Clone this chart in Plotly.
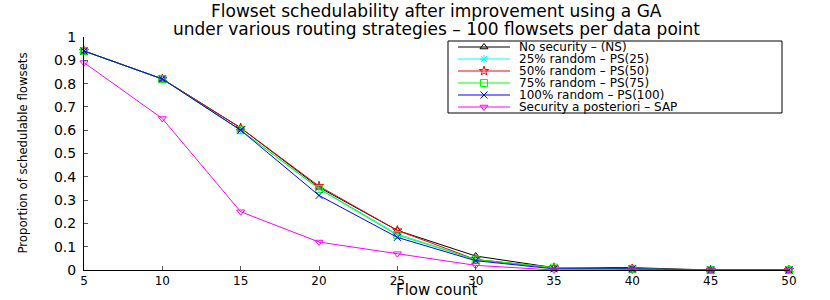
import plotly.graph_objects as go

# ---- data ----
flow_count = [5, 10, 15, 20, 25, 30, 35, 40, 45, 50]
ns    = [0.94, 0.82, 0.61, 0.355, 0.17, 0.06, 0.01, 0.01, 0.0, 0.0]
ps25  = [0.94, 0.82, 0.60, 0.35, 0.155, 0.045, 0.01, 0.005, 0.0, 0.0]
ps50  = [0.94, 0.82, 0.61, 0.36, 0.17, 0.045, 0.01, 0.005, 0.0, 0.0]
ps75  = [0.94, 0.82, 0.60, 0.348, 0.15, 0.045, 0.01, 0.005, 0.0, 0.0]
ps100 = [0.94, 0.82, 0.60, 0.32, 0.14, 0.04, 0.005, 0.005, 0.0, 0.0]
sap   = [0.89, 0.65, 0.25, 0.12, 0.07, 0.02, 0.0, 0.0, 0.0, 0.0]

series_names = ["No security \u2013 (NS)", "25% random \u2013 PS(25)", "50% random \u2013 PS(50)",
                "75% random \u2013 PS(75)", "100% random \u2013 PS(100)",
                "Security a posteriori \u2013 SAP"]
series_values = [ns, ps25, ps50, ps75, ps100, sap]
series_colors = ["#000000", "#00FFFF", "#FF0000", "#00FF00", "#0000FF", "#FF00FF"]
series_symbols = ["triangle-up-open", "asterisk-open", "star-open", "square-open",
                  "x-thin-open", "triangle-down-open"]

y_ticks = [0, 0.1, 0.2, 0.3, 0.4, 0.5, 0.6, 0.7, 0.8, 0.9, 1]
y_tick_labels = ["0", "0.1", "0.2", "0.3", "0.4", "0.5", "0.6", "0.7", "0.8", "0.9", "1"]
x_ticks = flow_count
x_tick_labels = [str(v) for v in flow_count]

title_lines = ["Flowset schedulability after improvement using a GA",
               "under various routing strategies \u2013 100 flowsets per data point"]
x_title = "Flow count"
y_title = "Proportion of schedulable flowsets"

# ---- layout geometry (pixels) ----
W, H = 830, 300
L, R, T, B = 84, 41, 37, 30
PX0, PX1 = L, W - R
PY0, PY1 = T, H - B


def px(x):
    return (x - PX0) / (PX1 - PX0)


def py(y):
    return (PY1 - y) / (PY1 - PY0)


FONT = "DejaVu Sans, Liberation Sans, Arial, sans-serif"
NARROW = "Liberation Sans Narrow, DejaVu Sans Condensed, Arial Narrow, sans-serif"

fig = go.Figure()

for name, vals, col, sym in zip(series_names, series_values, series_colors, series_symbols):
    fig.add_trace(go.Scatter(
        x=flow_count, y=vals, mode="lines+markers", name=name,
        line=dict(color=col, width=1),
        marker=dict(symbol=sym, size=7, color=col, line=dict(color=col, width=1)),
        cliponaxis=False, showlegend=False, xaxis="x", yaxis="y",
    ))

# ---- manual legend on a pixel overlay axis ----
leg_x0, leg_x1, leg_y0, leg_y1 = 448, 782, 41, 113
row_h = (leg_y1 - leg_y0) / len(series_names)
for i, (name, col, sym) in enumerate(zip(series_names, series_colors, series_symbols)):
    yc = leg_y0 + row_h * (i + 0.5)
    fig.add_trace(go.Scatter(
        x=[458, 510], y=[yc, yc], mode="lines", line=dict(color=col, width=1),
        showlegend=False, hoverinfo="skip", xaxis="x2", yaxis="y2", cliponaxis=False))
    fig.add_trace(go.Scatter(
        x=[484], y=[yc], mode="markers",
        marker=dict(symbol=sym, size=7, color=col, line=dict(color=col, width=1)),
        showlegend=False, hoverinfo="skip", xaxis="x2", yaxis="y2", cliponaxis=False))
    fig.add_annotation(x=px(517), y=py(yc), xref="paper", yref="paper", text=name, showarrow=False,
                       xanchor="left", yanchor="middle",
                       font=dict(family=FONT, size=12, color="#000000"))
fig.add_shape(type="rect", xref="paper", yref="paper",
              x0=px(leg_x0), x1=px(leg_x1), y0=py(leg_y0), y1=py(leg_y1),
              line=dict(color="#000000", width=1), fillcolor="rgba(255,255,255,0)", layer="below")

# ---- titles ----
title_cx = px((PX0 + PX1) / 2)
for txt, yy in zip(title_lines, [11, 29]):
    fig.add_annotation(x=title_cx, y=py(yy), xref="paper", yref="paper", text=txt, showarrow=False,
                       xanchor="center", yanchor="middle",
                       font=dict(family=FONT, size=17, color="#000000"))
fig.add_annotation(x=title_cx, y=py(301), xref="paper", yref="paper", text=x_title, showarrow=False,
                   xanchor="center", yanchor="bottom",
                   font=dict(family=FONT, size=15, color="#000000"))
fig.add_annotation(x=px(22), y=py((PY0 + PY1) / 2), xref="paper", yref="paper", text=y_title,
                   showarrow=False, textangle=-90, xanchor="center", yanchor="middle",
                   font=dict(family=NARROW, size=13, color="#000000"))

fig.update_layout(
    width=W, height=H,
    margin=dict(l=L, r=R, t=T, b=B, pad=0),
    plot_bgcolor="white", paper_bgcolor="white",
    showlegend=False,
    xaxis=dict(range=[5, 50], tickvals=x_ticks, ticktext=x_tick_labels,
               showgrid=False, zeroline=False, showline=True, linecolor="#000000", linewidth=1,
               ticks="inside", ticklen=4, tickcolor="#555555",
               tickfont=dict(family=FONT, size=12, color="#000000"),
               ticklabelstandoff=0, fixedrange=True),
    yaxis=dict(range=[0, 1], tickvals=y_ticks, ticktext=y_tick_labels,
               showgrid=False, zeroline=False, showline=True, linecolor="#000000", linewidth=1,
               ticks="inside", ticklen=4, tickcolor="#555555",
               tickfont=dict(family=FONT, size=14, color="#000000"),
               ticklabelstandoff=4, fixedrange=True),
    xaxis2=dict(range=[PX0, PX1], overlaying="x", visible=False, fixedrange=True),
    yaxis2=dict(range=[PY1, PY0], overlaying="y", visible=False, fixedrange=True),
)

fig.write_html("out.html", post_script="document.body.style.margin='0';",
               config={"displayModeBar": False})
